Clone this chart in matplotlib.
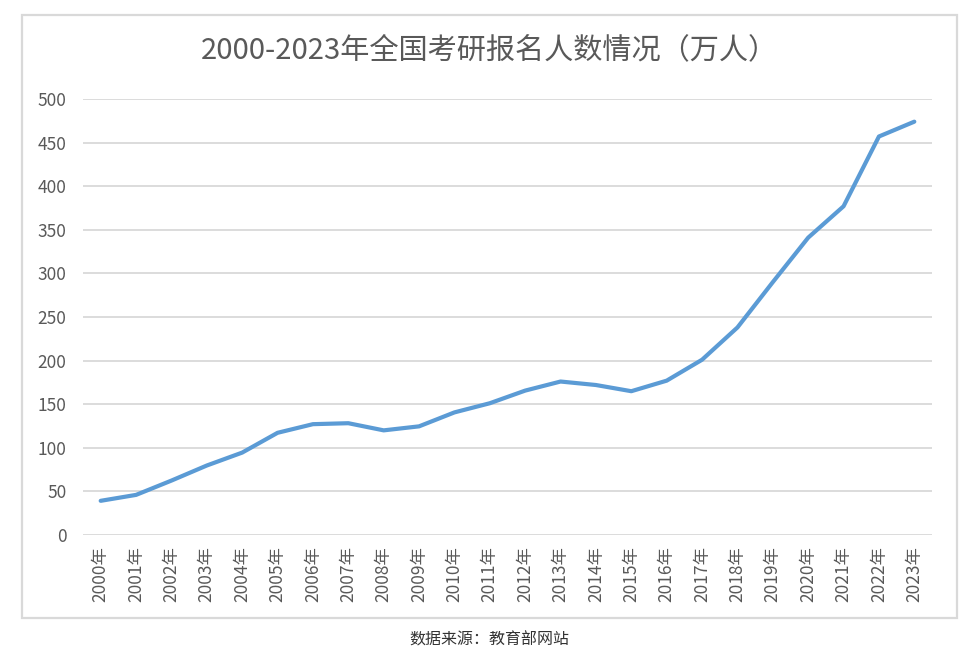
import matplotlib
matplotlib.use('Agg')
import matplotlib.pyplot as plt
from matplotlib.patches import Rectangle

plt.rcParams['font.family'] = ['Noto Sans CJK SC', 'DejaVu Sans']

years = [str(y) + '年' for y in range(2000, 2024)]
applicants = [39.2, 46, 62.4, 79.7, 94.5, 117.2, 127.1, 128.2, 120, 124.6,
              140.6, 151.1, 165.6, 176, 172, 164.9, 177, 201, 238, 290,
              341, 377, 457, 474]
yticks = [0, 50, 100, 150, 200, 250, 300, 350, 400, 450, 500]

fig = plt.figure(figsize=(9.78, 6.6), dpi=100, facecolor='w')

# light frame round the chart
fig.patches.append(Rectangle((22/978, 1-618/660), 935/978, 603/660, transform=fig.transFigure,
                             fill=False, edgecolor='#D9D9D9', linewidth=1.6))

ax = fig.add_axes([83/978, 1-535/660, 849/978, 436/660])
x = list(range(len(years)))
ax.plot(x, applicants, color='#5B9BD5', linewidth=3, solid_capstyle='round', zorder=3)

ax.set_xlim(-0.5, len(years) - 0.5)
ax.set_ylim(0, 500)
ax.set_yticks(yticks)
ax.set_xticks(x)
ax.set_xticklabels(years, rotation=90)
ax.yaxis.grid(True, color='#D9D9D9', linewidth=1.3)
ax.set_axisbelow(True)
for s in ax.spines.values():
    s.set_visible(False)
ax.tick_params(axis='both', length=0, colors='#595959', labelsize=12.5)
ax.tick_params(axis='y', pad=12)
ax.tick_params(axis='x', pad=8)

fig.text(0.5, 1-50/660, '2000-2023年全国考研报名人数情况（万人）', ha='center', va='center',
         fontsize=21, color='#595959')
fig.text(489/978, 1-640/660, '数据来源：教育部网站', ha='center', va='center',
         fontsize=11.5, color='#333333')

fig.savefig('out.png', dpi=100)
